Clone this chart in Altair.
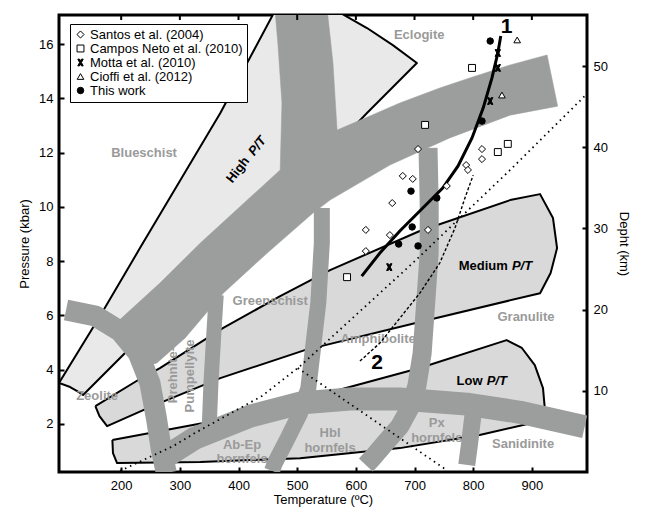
import altair as alt
import pandas as pd

FONT = "Liberation Sans"
BAND = "#9c9d9d"
GRAY_TXT = "#9a9a9a"
LIGHT1 = "#e9e9e9"
LIGHT2 = "#d9d9d9"

# ---------------- axes ----------------
T_DOMAIN = [94, 994]
P_DOMAIN = [0.23, 17.07]
DEPTH_DOMAIN = [0, 56.3]
t_ticks = [200, 300, 400, 500, 600, 700, 800, 900]
p_ticks = [2, 4, 6, 8, 10, 12, 14, 16]
depth_ticks = [10, 20, 30, 40, 50]

# ---------------- P/T gradient fields (T in degC, P in kbar) ----------------
high_pt_T = [94, 164, 232, 300, 369, 464, 561, 619, 663, 704, 619, 513, 420, 335, 210, 135, 125, 113]
high_pt_P = [3.51, 5.98, 8.48, 10.95, 13.46, 17.3, 17.3, 16.59, 15.96, 15.30, 13.46, 11.06, 9.18, 7.45, 4.69, 3.07, 3.21, 3.36]

medium_pt_T = [156, 229, 266, 374, 471, 556, 709, 863, 914, 936, 943, 932, 914, 709, 513, 369, 253, 176, 163]
medium_pt_P = [2.66, 3.62, 4.06, 5.54, 6.71, 7.67, 9.11, 10.25, 10.47, 9.59, 8.48, 7.56, 6.82, 5.76, 4.72, 3.69, 2.66, 1.92, 2.29]

low_pt_T = [185, 338, 437, 539, 709, 857, 883, 905, 919, 922, 915, 811, 675, 505, 335, 193, 186]
low_pt_P = [1.41, 2.03, 2.59, 3.07, 4.06, 5.09, 4.80, 4.17, 3.32, 2.59, 2.11, 1.59, 1.11, 0.74, 0.60, 0.56, 0.93]

# ---------------- facies boundary bands ----------------
hp_band_T = [462, 551, 561, 568, 624, 675, 743, 794, 863, 926, 944, 863, 760, 658, 556, 527, 449, 374,
             348, 309, 261, 232, 195, 266, 335, 471, 474, 467]
hp_band_P = [17.3, 17.3, 15.30, 12.83, 13.35, 13.83, 14.38, 14.75, 15.23, 15.60, 13.71, 13.38, 12.54, 11.54,
             10.25, 9.77, 8.30, 6.82, 6.16, 5.17, 4.25, 4.06, 5.79, 7.19, 8.67, 11.36, 13.83, 16.04]

arc_band_T = [106, 156, 198, 229, 249, 260, 268, 277]
arc_band_P = [6.20, 5.98, 5.42, 4.61, 3.51, 2.22, 1.11, 0.19]

gs_band_T = [542, 542, 536, 527, 519, 505, 484, 462, 457]
gs_band_P = [9.96, 8.67, 6.46, 4.80, 3.32, 2.40, 1.48, 0.56, 0.27]

pp_band_T = [362, 358, 353, 350]
pp_band_P = [6.75, 5.35, 3.51, 1.85]

am_band_T = [723, 725, 725, 713, 704, 692, 675, 650, 628, 617]
am_band_P = [12.17, 10.14, 8.30, 4.61, 3.40, 2.59, 1.92, 1.30, 0.74, 0.49]

hf_band_T = [272, 326, 420, 505, 590, 675, 789, 880, 990]
hf_band_P = [0.74, 1.48, 2.29, 2.77, 2.92, 2.92, 2.73, 2.43, 1.90]

px_band_T = [800, 794, 789]
px_band_P = [2.40, 1.30, 0.49]

# ---------------- geotherms and P-T paths ----------------
geo1_T = [198, 289, 326, 440, 505, 576, 697, 863, 990]
geo1_P = [0.27, 1.19, 1.67, 3.03, 4.13, 5.54, 7.93, 11.36, 14.08]
geo2_T = [501, 752]
geo2_P = [4.06, 0.34]
path2_T = [607, 641, 675, 709, 743, 769, 786, 800]
path2_P = [4.32, 4.98, 5.90, 6.82, 7.93, 9.22, 10.33, 11.17]
path1_T = [610, 641, 675, 709, 748, 774, 798, 817, 832, 842, 847]
path1_P = [7.45, 8.30, 9.11, 9.85, 10.69, 11.50, 12.54, 13.64, 14.75, 15.67, 16.30]

# ---------------- data points ----------------
series = ["Santos et al. (2004)", "Campos Neto et al. (2010)", "Motta et al. (2010)",
          "Cioffi et al. (2012)", "This work"]
santos_T = [706, 815, 815, 788, 791, 680, 697, 755, 662, 617, 658, 723, 617]
santos_P = [12.13, 12.13, 11.76, 11.54, 11.36, 11.14, 11.03, 10.77, 10.14, 9.15, 8.96, 9.15, 8.37]
campos_T = [798, 718, 842, 859, 585]
campos_P = [15.12, 13.02, 12.02, 12.32, 7.41]
motta_T = [842, 842, 829, 657]
motta_P = [15.67, 15.12, 13.90, 7.78]
cioffi_T = [875, 849]
cioffi_P = [16.15, 14.12]
this_T = [829, 815, 694, 738, 696, 673, 706]
this_P = [16.11, 13.16, 10.58, 10.33, 9.26, 8.63, 8.56]

# ---------------- labels ----------------
facies_labels = ["Eclogite", "Blueschist", "Greenschist", "Amphibolite", "Granulite", "Zeolite",
                 "Ab-Ep", "hornfels", "Hbl", "hornfels", "Px", "hornfels", "Sanidinite"]
facies_T = [708, 239, 454, 638, 890, 159, 406, 406, 556, 556, 738, 738, 885]
facies_P = [16.33, 11.98, 6.53, 5.13, 5.94, 3.03, 1.22, 0.71, 1.67, 1.11, 2.03, 1.48, 1.26]
rot_labels = ["Prehnite-", "Pumpellyite"]
rot_T = [289, 318]
rot_P = [3.80, 3.77]

# ---------------- encodings ----------------
def axis(**kw):
    return alt.Axis(grid=False, domain=False, offset=-5, tickSize=5, tickWidth=2, tickColor="black",
                    labelFontSize=13, labelFont=FONT, labelColor="black", titleFontSize=13,
                    titleFont=FONT, titleFontWeight="normal", titleColor="black", zindex=1, **kw)

x_enc = alt.X("T:Q", scale=alt.Scale(domain=T_DOMAIN, nice=False, zero=False),
              axis=axis(values=t_ticks, title="Temperature (ºC)", labelPadding=7, titlePadding=1))
y_enc = alt.Y("P:Q", scale=alt.Scale(domain=P_DOMAIN, nice=False, zero=False),
              axis=axis(values=p_ticks, title="Pressure (kbar)", labelPadding=6, titlePadding=7))


def frame(T, P, close=False):
    T, P = list(T), list(P)
    if close:
        T.append(T[0])
        P.append(P[0])
    return pd.DataFrame({"T": T, "P": P, "i": list(range(len(T)))})


def polygon(T, P, fill, stroke, width):
    return alt.Chart(frame(T, P, True)).mark_line(
        fill=fill, stroke=stroke, strokeWidth=width, clip=True, strokeJoin="round"
    ).encode(x=x_enc, y=y_enc, order="i:Q")


def band(T, P, width):
    return alt.Chart(frame(T, P)).mark_line(
        color=BAND, strokeWidth=width, strokeCap="butt", strokeJoin="round", clip=True
    ).encode(x=x_enc, y=y_enc, order="i:Q")


def curve(T, P, width, dash=None):
    kw = dict(color="black", strokeWidth=width, clip=True)
    if dash:
        kw["strokeDash"] = dash
    return alt.Chart(frame(T, P)).mark_line(**kw).encode(x=x_enc, y=y_enc, order="i:Q")


def texts(labels, T, P, color, size, weight="bold", style="normal", angle=0, align="center"):
    df = pd.DataFrame({"label": labels, "T": T, "P": P})
    return alt.Chart(df).mark_text(font=FONT, fontSize=size, fontWeight=weight, fontStyle=style,
                                   color=color, angle=angle, align=align, baseline="middle").encode(
        x=x_enc, y=y_enc, text="label:N")


layers = [
    polygon(high_pt_T, high_pt_P, LIGHT1, "black", 2),
    polygon(medium_pt_T, medium_pt_P, LIGHT2, "black", 2),
    polygon(low_pt_T, low_pt_P, LIGHT2, "black", 2),
    polygon(hp_band_T, hp_band_P, BAND, BAND, 0.5),
    band(arc_band_T, arc_band_P, 21),
    band(gs_band_T, gs_band_P, 16),
    band(pp_band_T, pp_band_P, 15),
    band(am_band_T, am_band_P, 19),
    band(hf_band_T, hf_band_P, 23),
    band(px_band_T, px_band_P, 17),
    texts(facies_labels, facies_T, facies_P, GRAY_TXT, 13),
    texts(rot_labels, rot_T, rot_P, GRAY_TXT, 13, angle=270),
    curve(geo1_T, geo1_P, 1.8, [1.5, 4]),
    curve(geo2_T, geo2_P, 1.8, [1.5, 4]),
    curve(path2_T, path2_P, 1.4, [3, 2]),
    curve(path1_T, path1_P, 3),
]

# data points with merged legend
rows = []
for name, Ts, Ps in zip(series, [santos_T, campos_T, motta_T, cioffi_T, this_T],
                        [santos_P, campos_P, motta_P, cioffi_P, this_P]):
    for t, p in zip(Ts, Ps):
        rows.append({"series": name, "T": t, "P": p})
pts = pd.DataFrame(rows)

X_PATH = "M-0.8,-1L-0.3,-1L0,-0.5L0.3,-1L0.8,-1L0.28,0L0.8,1L0.3,1L0,0.5L-0.3,1L-0.8,1L-0.28,0Z"
legend = alt.Legend(title=None, orient="none", legendX=11, legendY=9, strokeColor="black",
                    fillColor="white", padding=4, labelFontSize=13, labelFont=FONT,
                    labelColor="black", symbolStrokeColor="black", symbolStrokeWidth=1,
                    rowPadding=0, labelOffset=3, cornerRadius=0)
points = alt.Chart(pts).mark_point(strokeWidth=1, opacity=1, fillOpacity=1).encode(
    x=x_enc, y=y_enc,
    shape=alt.Shape("series:N", scale=alt.Scale(domain=series, range=["diamond", "square", X_PATH, "triangle-up", "circle"]), legend=legend),
    fill=alt.Fill("series:N", scale=alt.Scale(domain=series, range=["white", "white", "black", "white", "black"]), legend=legend),
    stroke=alt.Stroke("series:N", scale=alt.Scale(domain=series, range=["black", "black", "black", "black", "black"]), legend=legend),
    size=alt.Size("series:N", scale=alt.Scale(domain=series, range=[50, 42, 110, 50, 55]), legend=legend),
)
layers.append(points)

layers += [
    texts(["Medium", "Low"], [859, 816], [7.82, 3.59], "black", 13, align="right"),
    texts(["P/T", "P/T"], [866, 823], [7.82, 3.59], "black", 13, style="italic", align="left"),
    texts(["High"], [399], [11.36], "black", 13, angle=308),
    texts(["P/T"], [432], [12.24], "black", 13, style="italic", angle=308),
    texts(["1", "2"], [857, 636], [16.61, 4.25], "black", 21),
]

top_ticks = alt.Chart(pd.DataFrame({"T": t_ticks})).mark_rule(color="black", strokeWidth=2).encode(
    x=x_enc, y=alt.value(0), y2=alt.value(5))
layers.append(top_ticks)

main = alt.layer(*layers)

depth = alt.Chart(pd.DataFrame({"D": DEPTH_DOMAIN})).mark_point(opacity=0).encode(
    y=alt.Y("D:Q", scale=alt.Scale(domain=DEPTH_DOMAIN, nice=False, zero=False),
            axis=axis(orient="right", values=depth_ticks, title="Depht (km)", labelPadding=6, titlePadding=9)))

chart = alt.layer(main, depth).resolve_scale(y="independent").properties(
    width=528, height=457, padding={"left": 10, "top": 4, "right": 2, "bottom": 2}
).configure(font=FONT).configure_view(stroke="black", strokeWidth=3)

chart.save("out.html", embed_options={"renderer": "svg", "actions": False})
